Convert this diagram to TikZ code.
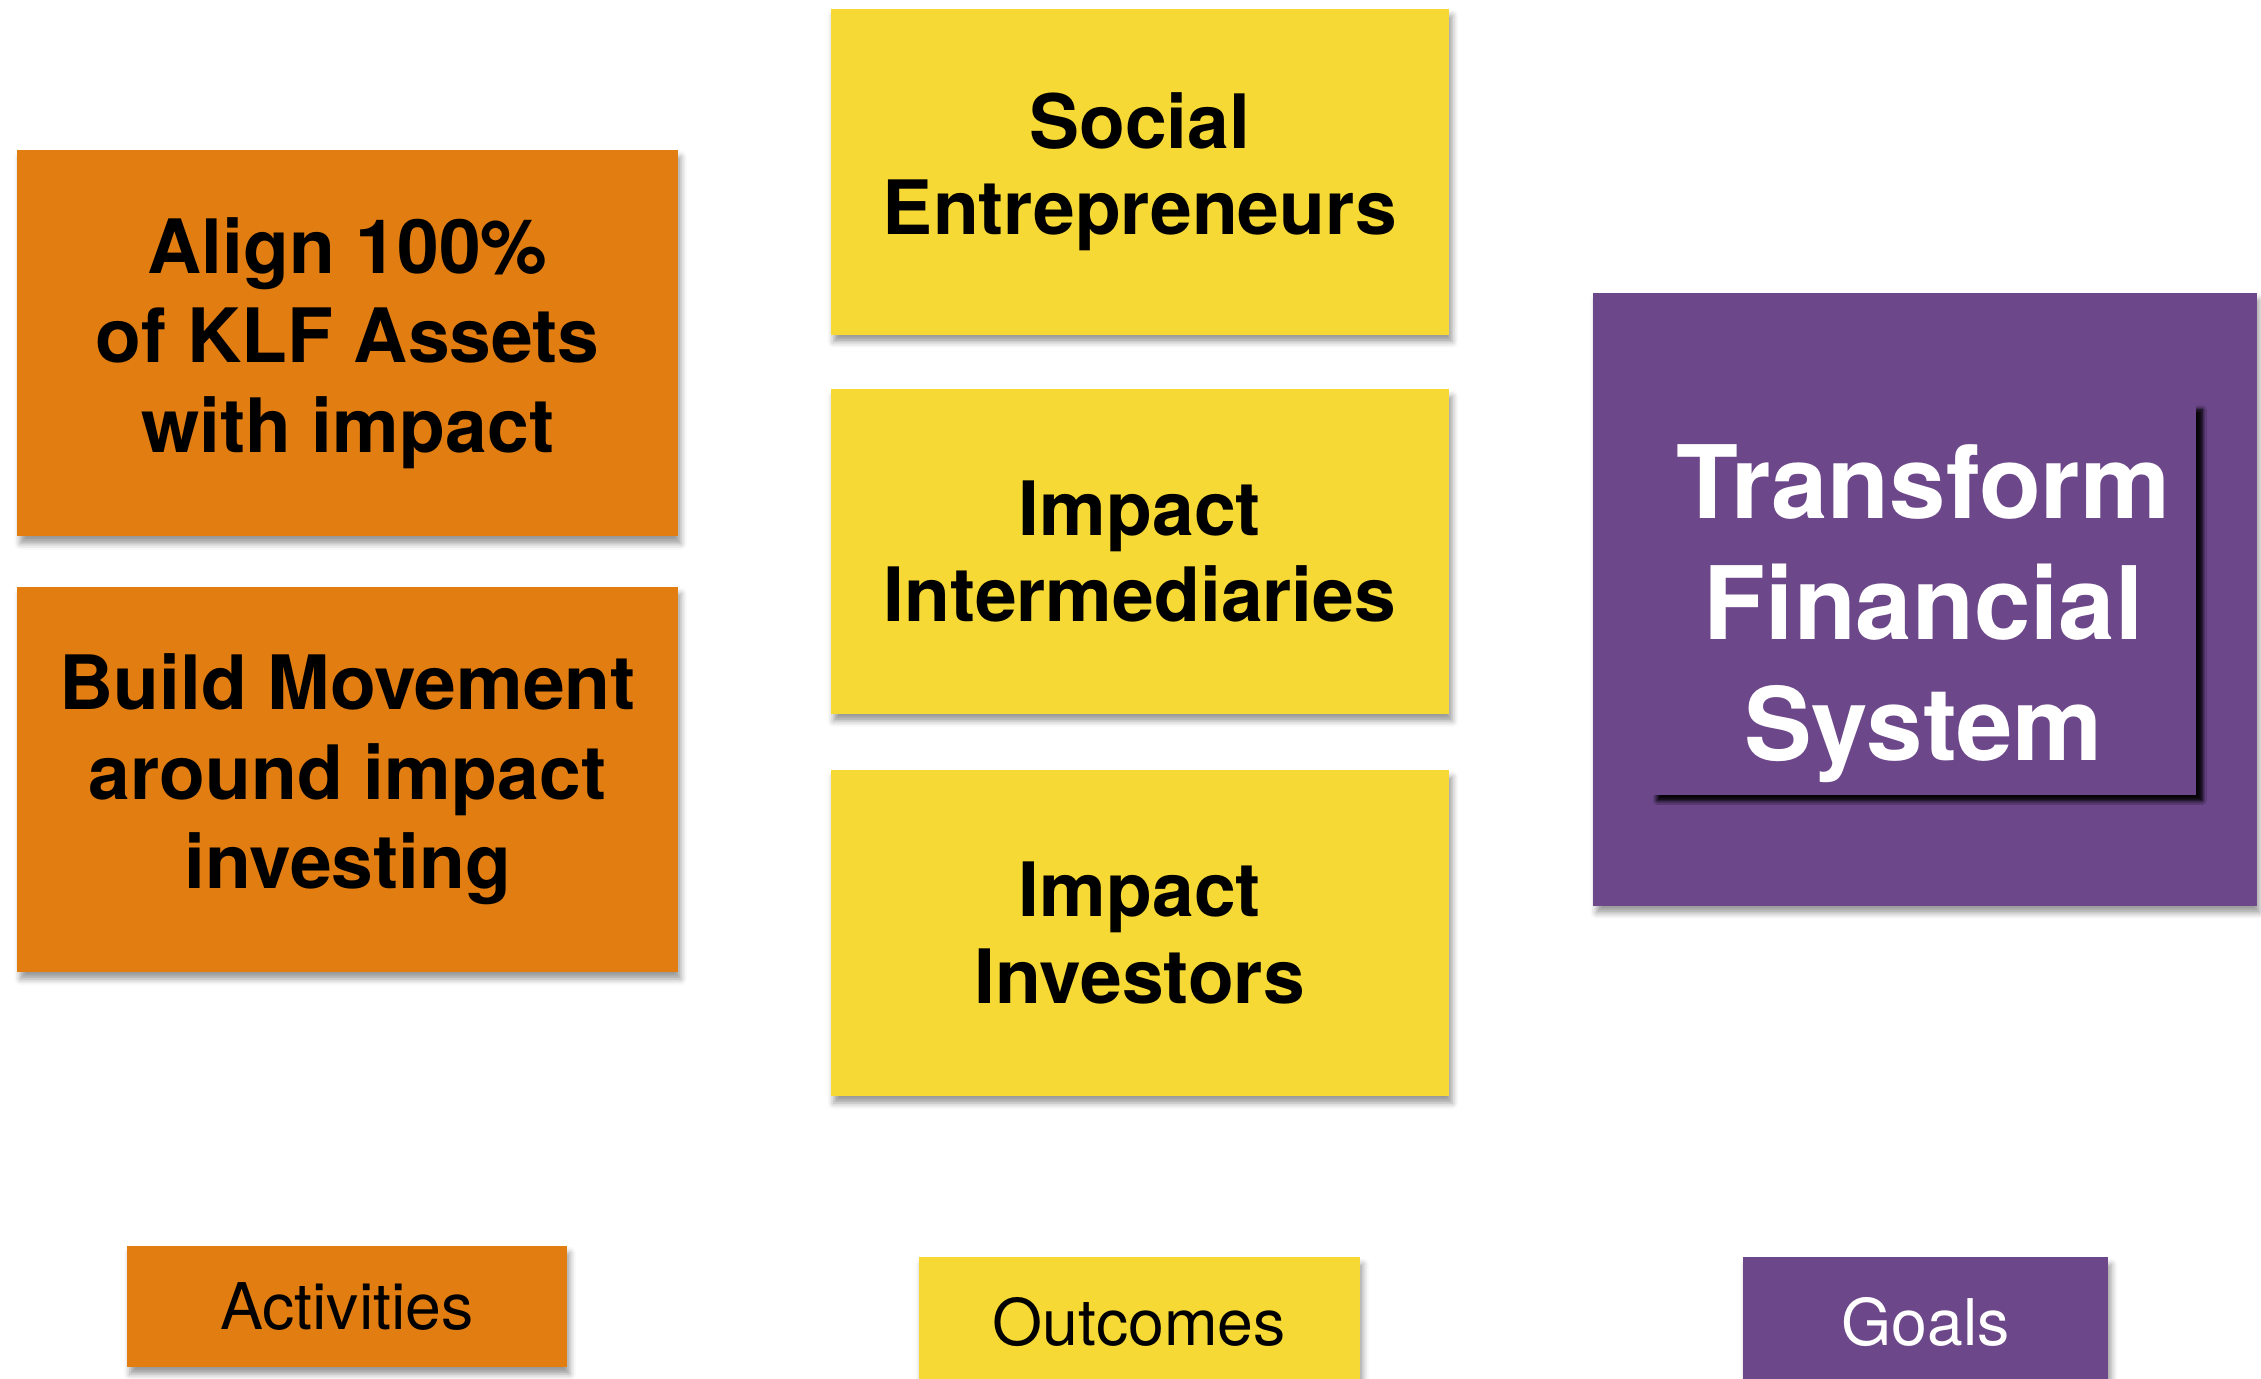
\documentclass[tikz,border=0pt]{standalone}
\usepackage{fontspec}
\setmainfont{TeX Gyre Heros}
\usetikzlibrary{shadows.blur}
\definecolor{actorange}{RGB}{226,125,18}
\definecolor{outyellow}{RGB}{246,217,53}
\definecolor{goalpurple}{RGB}{108,71,138}

\begin{document}
\begin{tikzpicture}[
    card/.style={inner sep=0pt, align=center,
      blur shadow={shadow xshift=0.6pt, shadow yshift=-1.4pt, shadow blur radius=1.2pt, shadow opacity=40}},
    activity/.style={card, fill=actorange, minimum width=4.58cm, minimum height=2.68cm,
      font=\bfseries\fontsize{14.8}{17.6}\selectfont},
    outcome/.style={card, fill=outyellow, minimum width=4.29cm, minimum height=2.26cm,
      font=\bfseries\fontsize{14.8}{17}\selectfont},
    goal/.style={card, fill=goalpurple, text=white},
    legend/.style={card, minimum height=0.86cm, font=\fontsize{12.7}{15}\selectfont}
  ]
    \useasboundingbox (0, 0) rectangle (15.68, -9.56);

    \node[activity] (align) at (2.41, -2.38) {Align 100\%\\of KLF Assets\\with impact};
    \node[activity, minimum height=2.67cm] (build) at (2.41, -5.405) {Build Movement\\around impact\\investing};

    \node[outcome] (social) at (7.905, -1.19) {Social\\Entrepreneurs};
    \node[outcome, minimum height=2.25cm] (inter) at (7.905, -3.825) {Impact\\Intermediaries};
    \node[outcome] (investors) at (7.905, -6.47) {Impact\\Investors};

    \node[goal, minimum width=4.6cm, minimum height=4.25cm] (goalbox) at (13.35, -4.155) {};
    \node[goal, minimum width=3.78cm, minimum height=2.71cm,
      blur shadow={shadow xshift=1.2pt, shadow yshift=-1.2pt, shadow blur radius=0.8pt, shadow opacity=75}] (transform) at (13.34, -4.155) {};
    \node[text=white, align=center, font=\bfseries\fontsize{20}{23.8}\selectfont] (transformtext)
      at ([yshift=-0.1cm]transform.center) {Transform\\Financial\\System};

    \node[legend, fill=actorange, minimum width=3.05cm, minimum height=0.84cm] (activities) at (2.405, -9.06) {Activities};
    \node[legend, fill=outyellow, minimum width=3.06cm, minimum height=0.9cm] (outcomes) at (7.9, -9.17) {Outcomes};
    \node[legend, fill=goalpurple, text=white, minimum width=2.53cm, minimum height=0.9cm] (goals) at (13.355, -9.17) {Goals};
  \end{tikzpicture}
\end{document}
